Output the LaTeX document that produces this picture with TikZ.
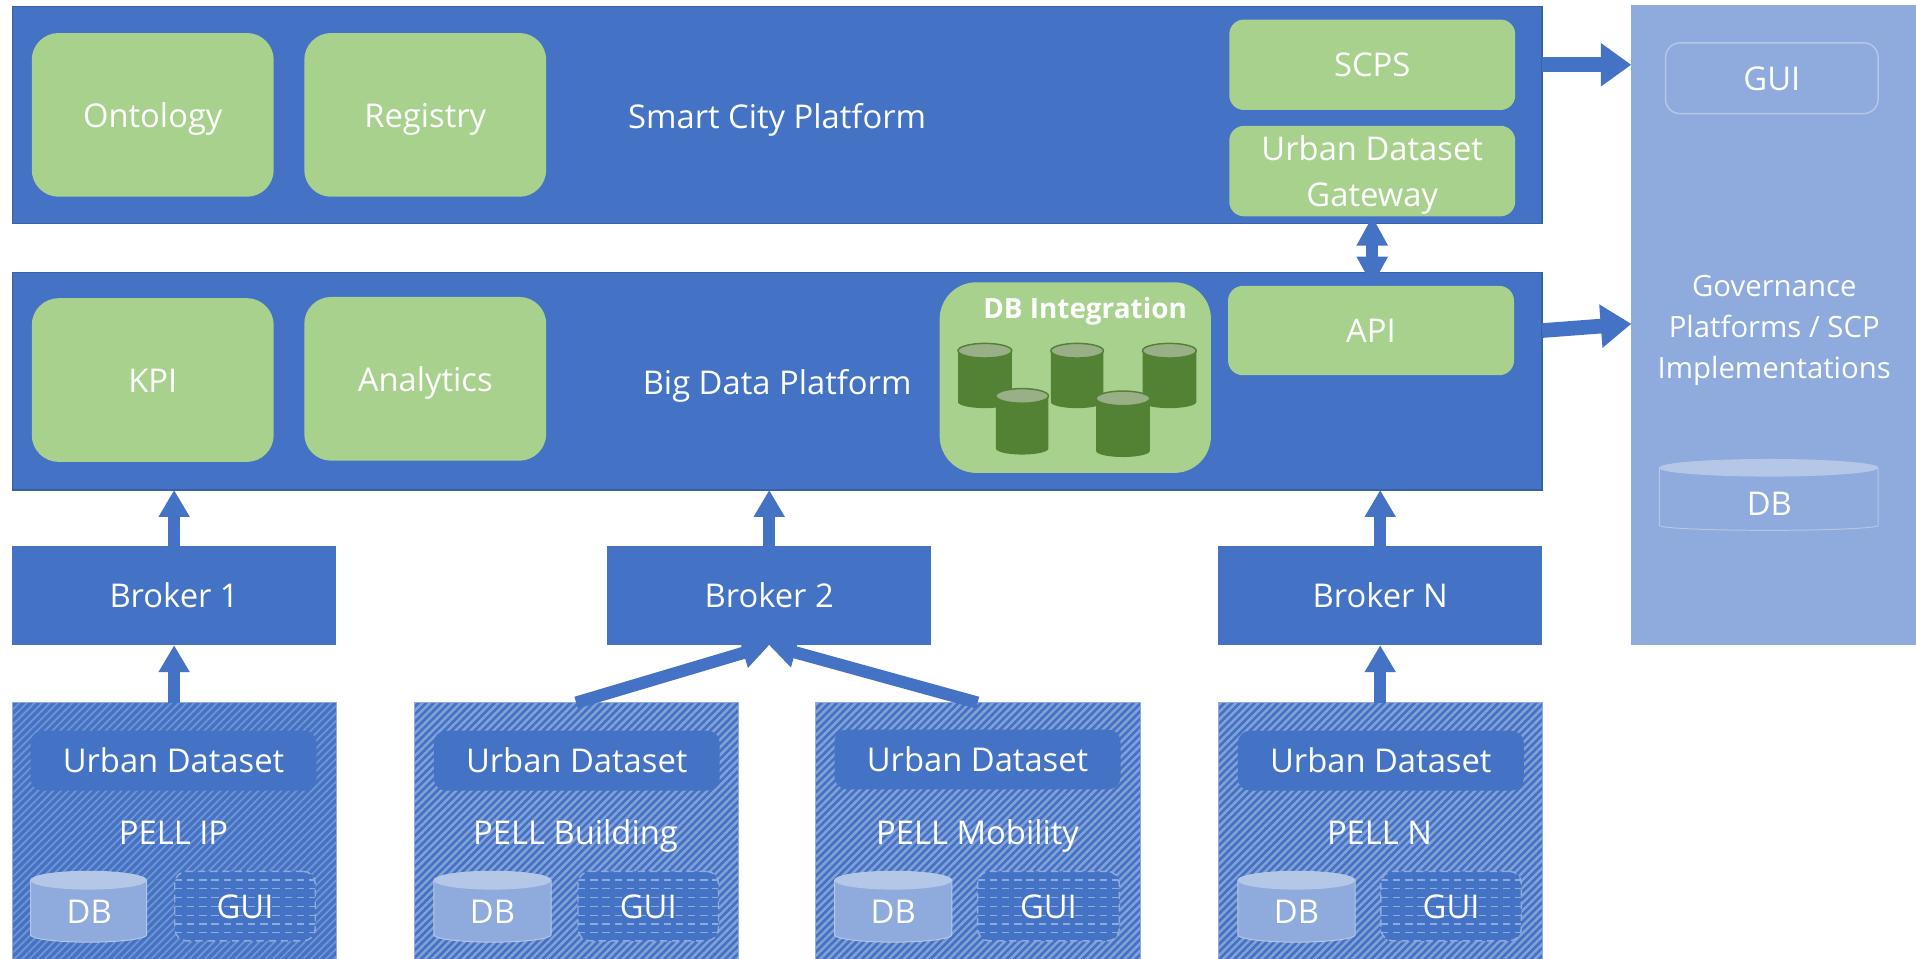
\documentclass[tikz,border=0pt]{standalone}
\usepackage{fontspec}
\setmainfont{Open Sans}
\usetikzlibrary{arrows.meta,patterns.meta}
\definecolor{cblue}{HTML}{4472C4}
\definecolor{clight}{HTML}{8FAADC}
\definecolor{cpale}{HTML}{B4C7E7}
\definecolor{cgreen}{HTML}{A9D18E}
\definecolor{cdark}{HTML}{548235}
\definecolor{cdtop}{HTML}{98AF88}
\newcommand{\bx}[7][]{%
  \pgfmathsetmacro{\cxx}{(#4+#6)/2}\pgfmathsetmacro{\cyy}{(#5+#7)/2}%
  \pgfmathsetmacro{\wdd}{(#6-#4)/2}\pgfmathsetmacro{\htt}{(#7-#5)/2}%
  \node[#2,minimum width=\wdd pt,minimum height=\htt pt,#1] (#3) at (\cxx,\cyy)}
\newcommand{\cyl}[9]{%
  \bx{anchorbox}{#3}{#4}{#5}{#6}{#7}{};
  \pgfmathsetmacro{\rxx}{(#6-#4)/4}\pgfmathsetmacro{\ryt}{#8/2}\pgfmathsetmacro{\ryb}{#9/2}%
  \path[#1] (#4,#5+#8) -- (#4,#7-#9) arc[start angle=180,end angle=360,x radius=\rxx pt,y radius=\ryb pt]
     -- (#6,#5+#8) arc[start angle=0,end angle=180,x radius=\rxx pt,y radius=\ryt pt] -- cycle;
  \path[#2] (#3.north |- 0,#5+#8) ellipse[x radius=\rxx pt,y radius=\ryt pt];}
\tikzset{
  x=0.5pt,y=-0.5pt,
  every node/.style={text=white,font=\fontsize{13.4}{16}\selectfont,inner sep=0pt,outer sep=0pt,align=center,text height=10pt,text depth=0pt},
  panelbox/.style={fill=cblue,draw=cblue!85!black,line width=0.5pt},
  brokerbox/.style={fill=cblue},
  anchorbox/.style={},
  greenbox/.style={fill=cgreen,rounded corners=11pt},
  greensmall/.style={fill=cgreen,rounded corners=6pt},
  dsbox/.style={fill=cblue,rounded corners=5pt},
  pellA/.style={draw=clight,line width=0.4pt,preaction={fill=cblue},pattern={Lines[angle=45,distance=2.2pt,line width=0.75pt]},pattern color=clight!60!cblue},
  pellB/.style={draw=clight,line width=0.4pt,preaction={fill=cblue},pattern={Lines[angle=45,distance=2.2pt,line width=1pt]},pattern color=clight!85!cblue},
  guibox/.style={fill=cblue,rounded corners=5pt,draw=clight,dash pattern=on 3pt off 2pt,line width=0.6pt,
    path picture={\foreach \k in {1,...,7}{\draw[clight,line width=0.5pt,dash pattern=on 3pt off 2pt]
      ([yshift=-\k*3.6pt]path picture bounding box.north west) -- ([yshift=-\k*3.6pt]path picture bounding box.north east);}}},
  dbbody/.style={fill=clight,draw=cpale,line width=0.4pt},
  dbtop/.style={fill=cpale},
  storebody/.style={fill=cdark},
  storetop/.style={fill=cdtop,draw=cdark,line width=0.6pt},
  blockup/.style={-{Triangle[length=11pt,width=12pt]},cblue,line width=5pt},
  blockright/.style={-{Triangle[length=12.5pt,width=17pt]},cblue,line width=6pt},
  blockboth/.style={{Triangle[length=12pt,width=12pt]}-{Triangle[length=12pt,width=12pt]},cblue,line width=5pt},
  govbox/.style={fill=clight},
  guiout/.style={draw=cpale,rounded corners=6pt,line width=0.6pt}
}
\begin{document}
\begin{tikzpicture}
\useasboundingbox (0,0) rectangle (1568,784);
\fill[white] (0,0) rectangle (1568,784);
% platforms
\bx{panelbox}{top}{10}{5}{1262}{183}{};
\bx{panelbox}{big}{10}{223}{1262}{401}{};
\bx{greenbox}{onto}{26}{27}{224}{161}{Ontology};
\bx{greenbox}{regi}{249}{27}{447}{161}{Registry};
\node (scp) at (636,95) {Smart City Platform};
\bx{greensmall}{scps}{1006}{16}{1240}{90}{SCPS};
\bx[text height=29pt]{greensmall}{udg}{1006}{103}{1240}{177}{Urban Dataset\\[3pt]Gateway};
\bx{greenbox}{kpi}{26}{244}{224}{378}{KPI};
\bx{greenbox}{anal}{249}{243}{447}{377}{Analytics};
\node (bdp) at (636,313) {Big Data Platform};
\bx[rounded corners=15pt]{greenbox}{dbi}{769}{231}{991}{387}{};
\node[font=\fontsize{11.4}{14}\selectfont\bfseries] (dbit) at (888,251) {DB Integration};
\bx{greensmall}{api}{1005}{234}{1239}{307}{API};
\cyl{storebody}{storetop}{c1}{784}{281}{828}{334}{6}{5}
\cyl{storebody}{storetop}{c2}{860}{281}{903}{334}{6}{5}
\cyl{storebody}{storetop}{c3}{935}{281}{979}{334}{6}{5}
\cyl{storebody}{storetop}{c4}{815}{318}{858}{372}{6}{5}
\cyl{storebody}{storetop}{c5}{897}{320}{941}{374}{6}{5}
% brokers
\bx{brokerbox}{b1}{10}{447}{275}{528}{Broker 1};
\bx{brokerbox}{b2}{497}{447}{762}{528}{Broker 2};
\bx{brokerbox}{bn}{997}{447}{1262}{528}{Broker N};
% PELL panels
\begin{scope}
\clip (0,0) rectangle (1568,784);
\bx{pellA}{p1}{10}{575}{275}{794}{};
\bx{pellB}{p2}{339}{575}{604}{794}{};
\bx{pellB}{p3}{667}{575}{933}{794}{};
\bx{pellB}{p4}{997}{575}{1262}{794}{};
\end{scope}
\bx{dsbox}{u1}{25}{598}{259}{647}{Urban Dataset};
\bx{dsbox}{u2}{355}{598}{589}{647}{Urban Dataset};
\bx{dsbox}{u3}{683}{597}{917}{646}{Urban Dataset};
\bx{dsbox}{u4}{1013}{598}{1247}{647}{Urban Dataset};
\node (l1) at (142,681) {PELL IP};
\node (l2) at (471,681) {PELL Building};
\node (l3) at (800,681) {PELL Mobility};
\node (l4) at (1129,681) {PELL N};
\cyl{dbbody}{dbtop}{d1}{25}{713}{120}{771}{7.5}{6}
\cyl{dbbody}{dbtop}{d2}{355}{713}{451}{771}{7.5}{6}
\cyl{dbbody}{dbtop}{d3}{683}{713}{779}{771}{7.5}{6}
\cyl{dbbody}{dbtop}{d4}{1013}{713}{1109}{771}{7.5}{6}
\node (dt1) at (73,746) {DB};
\node (dt2) at (403,746) {DB};
\node (dt3) at (731,746) {DB};
\node (dt4) at (1061,746) {DB};
\bx{guibox}{g1}{143}{713}{258}{770}{GUI};
\bx{guibox}{g2}{473}{713}{588}{770}{GUI};
\bx{guibox}{g3}{800}{713}{916}{770}{GUI};
\bx{guibox}{g4}{1130}{713}{1245}{770}{GUI};
% governance
\bx{govbox}{gov}{1335}{4}{1568}{528}{};
\bx{guiout}{ggui}{1363}{35}{1537}{93}{GUI};
\node[font=\fontsize{12}{16.8}\selectfont,text height=43.5pt] (govt) at (1452,266) {Governance\\Platforms / SCP\\Implementations};
\cyl{dbbody}{dbtop}{gdb}{1358}{376}{1537}{434}{7}{4}
\node (gdbt) at (1448,412) {DB};
% connectors
\coordinate (upB) at (big.south -| b1.north);
\coordinate (upC) at (big.south -| b2.north);
\coordinate (upD) at (big.south -| bn.north);
\draw[blockup] (b1.north) -- (upB);
\draw[blockup] (b2.north) -- (upC);
\draw[blockup] (bn.north) -- (upD);
\draw[blockup] (p1.north) -- (b1.south);
\draw[blockup] (p4.north -| bn.south) -- (bn.south);
\draw[blockup] (p2.north) -- (b2.south);
\draw[blockup] (p3.north) -- (b2.south);
\draw[blockboth] (udg.south) -- (api.north -| udg.south);
\coordinate (govA) at (gov.west |- scps.east);
\coordinate (govB) at (1335,265);
\draw[blockright] (top.east |- scps.east) -- (govA);
\draw[blockright] (top.east |- api.east) -- (govB);
\end{tikzpicture}
\end{document}
